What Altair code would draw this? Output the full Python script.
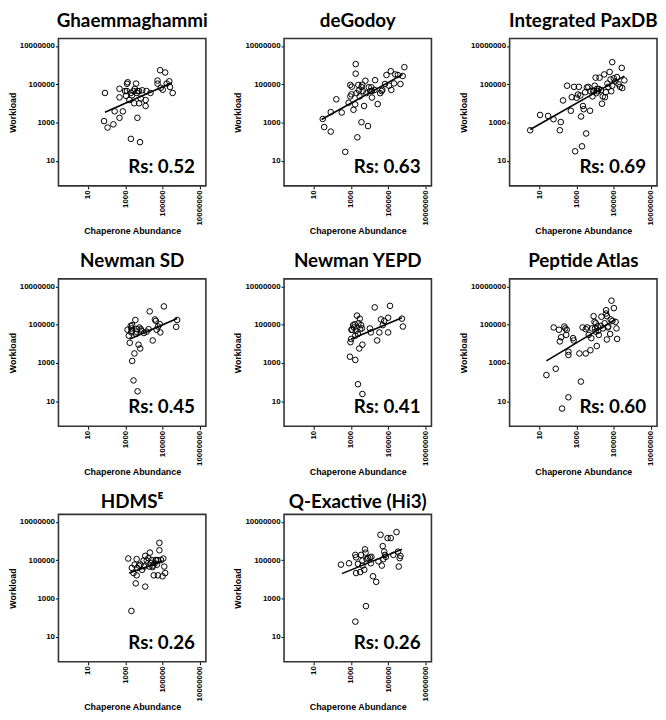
import altair as alt
import pandas as pd

W = 149
H = 149

titles = ["Ghaemmaghammi", "deGodoy", "Integrated PaxDB", "Newman SD", "Newman YEPD",
          "Peptide Atlas", "HDMS\u1d31", "Q-Exactive (Hi3)"]
rs_labels = ["Rs: 0.52", "Rs: 0.63", "Rs: 0.69", "Rs: 0.45", "Rs: 0.41", "Rs: 0.60", "Rs: 0.26", "Rs: 0.26"]

x_ticks = [10, 1000, 100000, 10000000]
y_ticks = [10, 1000, 100000, 10000000]

# values, as log10 of the plotted values
ghaem_log_abund = [1.91, 1.86, 2.05, 2.36, 2.43, 2.69, 2.69, 2.69, 2.87, 2.99, 3.09, 3.13, 3.09, 3.22, 3.30,
                   3.30, 3.36, 3.48, 3.51, 3.58, 3.62, 3.65, 3.65, 3.74, 3.74, 3.79, 3.83, 3.91, 4.09, 4.09,
                   4.14, 4.35, 4.73, 4.73, 4.87, 4.90, 5.01, 5.14, 5.22, 5.36, 5.40, 5.54, 3.44, 3.04]
ghaem_log_work = [4.54, 3.07, 2.73, 2.90, 3.58, 4.76, 4.31, 3.24, 3.58, 4.64, 5.02, 5.10, 4.64, 4.17, 4.54,
                  2.14, 4.42, 4.00, 4.76, 5.03, 4.54, 4.64, 3.24, 4.00, 4.64, 1.97, 4.25, 4.68, 3.86, 4.17,
                  4.64, 4.54, 5.19, 5.03, 5.73, 4.81, 4.71, 5.61, 5.03, 5.15, 4.85, 4.54, 4.64, 4.39]
ghaem_fit_abund = [1.91, 5.49]
ghaem_fit_work = [3.53, 5.07]

degodoy_log_abund = [1.49, 1.57, 1.92, 1.92, 2.22, 2.51, 2.70, 2.88, 2.97, 2.97, 3.03, 3.14, 3.23, 3.26, 3.26,
                     3.30, 3.35, 3.40, 3.43, 3.47, 3.57, 3.61, 3.64, 3.71, 3.78, 3.83, 3.92, 3.96, 4.04, 4.10,
                     4.13, 4.13, 4.27, 4.30, 4.44, 4.57, 4.65, 4.69, 4.83, 4.91, 5.05, 5.14, 5.17, 5.31, 5.38,
                     5.52, 5.66, 5.78, 5.87, 3.57, 3.05]
degodoy_log_work = [3.18, 2.76, 2.52, 3.54, 4.21, 3.52, 1.46, 4.03, 4.96, 4.36, 4.47, 3.66, 3.94, 6.05, 5.55,
                    4.53, 2.22, 4.96, 4.67, 4.36, 3.01, 4.97, 4.64, 3.86, 5.18, 4.53, 2.81, 4.84, 4.64, 4.84,
                    4.30, 4.64, 4.70, 5.21, 3.96, 4.53, 4.64, 4.70, 5.01, 5.48, 4.92, 5.68, 4.70, 5.04, 5.51,
                    5.48, 5.01, 5.43, 5.89, 4.85, 4.87]
degodoy_fit_abund = [1.43, 5.78]
degodoy_fit_work = [3.15, 5.51]

paxdb_log_abund = [0.52, 1.05, 1.48, 1.77, 2.11, 2.16, 2.28, 2.50, 2.70, 2.75, 2.87, 2.93, 3.01, 3.08, 3.13,
                   3.21, 3.25, 3.30, 3.35, 3.39, 3.47, 3.52, 3.56, 3.64, 3.73, 3.76, 3.86, 3.90, 3.93, 3.98,
                   4.03, 4.07, 4.10, 4.20, 4.24, 4.32, 4.37, 4.41, 4.49, 4.53, 4.58, 4.66, 4.71, 4.78, 4.83,
                   4.87, 4.92, 4.92, 5.00, 5.09, 5.17, 5.26, 5.34, 5.43, 5.46, 5.57, 4.15]
paxdb_log_work = [2.59, 3.39, 3.34, 3.17, 2.59, 3.02, 4.15, 4.92, 3.61, 4.32, 4.86, 1.49, 4.29, 4.46, 4.86,
                  4.41, 3.31, 1.75, 3.86, 3.69, 4.58, 2.42, 4.83, 4.86, 3.61, 4.63, 4.36, 4.63, 4.66, 4.92,
                  5.34, 4.53, 4.75, 4.75, 5.34, 4.69, 3.98, 4.36, 5.51, 4.32, 4.58, 5.03, 4.86, 5.64, 5.25,
                  4.63, 4.92, 6.15, 5.31, 5.14, 5.37, 5.00, 4.86, 5.85, 4.80, 5.20, 4.63]
paxdb_fit_abund = [0.52, 5.57]
paxdb_fit_work = [2.63, 5.42]

nsd_log_abund = [3.12, 3.19, 3.24, 3.29, 3.32, 3.36, 3.37, 3.37, 3.44, 3.49, 3.54, 3.58, 3.63, 3.66, 3.71,
                 3.75, 3.80, 3.83, 3.86, 4.00, 4.14, 4.25, 4.31, 4.47, 4.59, 4.64, 4.68, 4.76, 4.85, 4.88,
                 5.07, 5.78, 5.73, 3.32, 3.58]
nsd_log_work = [4.73, 4.42, 4.05, 4.93, 4.80, 4.68, 4.97, 3.10, 2.08, 3.49, 5.24, 4.63, 4.76, 1.51, 3.95,
                4.85, 3.75, 4.76, 4.68, 4.56, 4.63, 4.76, 5.69, 4.17, 5.27, 5.19, 4.73, 4.90, 5.02, 4.59,
                5.95, 5.24, 4.88, 4.59, 4.51]
nsd_fit_abund = [3.24, 5.78]
nsd_fit_work = [4.25, 5.32]

nyepd_log_abund = [2.95, 2.98, 3.02, 3.03, 3.07, 3.12, 3.16, 3.21, 3.24, 3.28, 3.33, 3.38, 3.45, 3.48, 3.50,
                   3.55, 3.59, 3.62, 3.38, 3.62, 4.02, 4.07, 4.28, 4.41, 4.53, 4.62, 4.71, 4.79, 5.00, 5.00,
                   5.10, 5.74, 5.79, 3.24, 3.41]
nyepd_log_work = [3.32, 4.08, 4.25, 4.73, 4.73, 4.97, 4.85, 5.02, 3.15, 4.68, 5.47, 4.51, 3.75, 5.31, 4.76,
                  4.97, 4.80, 3.95, 1.88, 1.37, 4.80, 4.59, 5.90, 4.17, 4.59, 5.27, 4.97, 5.19, 5.36, 4.59,
                  5.98, 5.31, 4.90, 4.42, 5.07]
nyepd_fit_abund = [3.02, 5.74]
nyepd_fit_work = [4.25, 5.36]

pa_log_abund = [1.39, 1.78, 1.89, 2.06, 2.11, 2.18, 2.23, 2.35, 2.40, 2.45, 2.48, 2.57, 2.57, 2.57, 2.82,
                2.85, 3.16, 3.24, 3.33, 3.50, 3.50, 3.58, 3.66, 3.75, 3.80, 3.83, 3.92, 3.97, 4.00, 4.04,
                4.09, 4.14, 4.17, 4.20, 4.31, 4.34, 4.42, 4.51, 4.59, 4.59, 4.63, 4.68, 4.71, 4.81, 4.84,
                4.88, 4.93, 5.01, 5.10, 5.15, 5.18, 4.64, 4.04]
pa_log_work = [2.36, 4.85, 2.69, 4.73, 4.12, 4.34, 0.61, 4.90, 4.80, 4.46, 4.73, 3.58, 3.41, 1.20, 4.29,
               4.17, 3.49, 2.02, 4.85, 3.49, 4.76, 4.85, 4.46, 3.66, 4.29, 4.80, 5.44, 5.14, 4.80, 5.07,
               3.88, 4.90, 4.68, 4.46, 4.93, 5.41, 4.80, 5.07, 5.75, 5.58, 4.22, 4.85, 4.90, 4.51, 5.27,
               6.25, 5.19, 5.86, 5.14, 4.80, 4.25, 5.44, 4.63]
pa_fit_abund = [1.39, 5.10]
pa_fit_work = [3.10, 5.27]

hdms_log_abund = [3.16, 3.33, 3.35, 3.44, 3.50, 3.56, 3.61, 3.64, 3.73, 3.81, 3.90, 3.98, 4.02, 4.07, 4.07,
                  4.15, 4.24, 4.29, 4.32, 4.36, 4.41, 4.46, 4.49, 4.53, 4.58, 4.63, 4.66, 4.70, 4.75, 4.83,
                  4.83, 4.92, 5.00, 5.04, 5.09, 5.14, 4.75, 3.61]
hdms_log_work = [5.08, 2.34, 4.59, 4.32, 4.76, 3.78, 5.05, 4.59, 4.71, 4.76, 4.49, 4.97, 4.66, 3.61, 5.22,
                 4.97, 5.10, 4.66, 5.39, 4.83, 5.00, 4.63, 4.71, 4.20, 4.83, 5.00, 5.00, 4.76, 5.00, 5.51,
                 5.90, 5.00, 4.15, 5.08, 4.66, 4.32, 4.20, 4.20]
hdms_fit_abund = [3.21, 4.97]
hdms_fit_work = [4.32, 4.93]

qe_log_abund = [2.47, 2.90, 3.24, 3.28, 3.28, 3.38, 3.50, 3.55, 3.62, 3.72, 3.76, 3.81, 3.79, 3.84, 3.93,
                4.02, 4.07, 4.10, 4.19, 4.36, 4.48, 4.59, 4.66, 4.71, 4.74, 4.79, 4.83, 4.88, 4.97, 5.14,
                5.28, 5.45, 5.53, 5.57, 5.62, 5.66, 3.24, 3.62]
qe_log_work = [4.76, 4.83, 5.27, 4.32, 5.14, 4.80, 4.37, 5.27, 4.71, 4.49, 5.56, 2.59, 5.39, 5.05, 5.10,
               5.14, 4.83, 5.17, 4.15, 3.86, 4.93, 6.32, 4.71, 5.73, 5.05, 5.44, 5.27, 5.17, 6.15, 6.15,
               5.27, 6.46, 5.44, 4.66, 5.10, 5.22, 1.78, 4.97]
qe_fit_abund = [2.52, 5.74]
qe_fit_work = [4.29, 5.56]

panels = [
    (ghaem_log_abund, ghaem_log_work, ghaem_fit_abund, ghaem_fit_work),
    (degodoy_log_abund, degodoy_log_work, degodoy_fit_abund, degodoy_fit_work),
    (paxdb_log_abund, paxdb_log_work, paxdb_fit_abund, paxdb_fit_work),
    (nsd_log_abund, nsd_log_work, nsd_fit_abund, nsd_fit_work),
    (nyepd_log_abund, nyepd_log_work, nyepd_fit_abund, nyepd_fit_work),
    (pa_log_abund, pa_log_work, pa_fit_abund, pa_fit_work),
    (hdms_log_abund, hdms_log_work, hdms_fit_abund, hdms_fit_work),
    (qe_log_abund, qe_log_work, qe_fit_abund, qe_fit_work),
]


def make_panel(i, title_offset):
    xa, ya, fx, fy = panels[i]
    pts = pd.DataFrame({"abundance": [10 ** v for v in xa], "workload": [10 ** v for v in ya]})
    fit = pd.DataFrame({"abundance": [10 ** v for v in fx], "workload": [10 ** v for v in fy]})
    lab = pd.DataFrame({"label": [rs_labels[i]]})
    xenc = alt.X("abundance:Q", title="Chaperone Abundance",
                 scale=alt.Scale(type="log", domain=[0.26, 2.1e7], nice=False),
                 axis=alt.Axis(values=x_ticks, format="d", labelAngle=270, labelFlush=False))
    yenc = alt.Y("workload:Q", title="Workload",
                 scale=alt.Scale(type="log", domain=[0.48, 2.45e7], nice=False),
                 axis=alt.Axis(values=y_ticks, format="d", labelFlush=False))
    frame = alt.Chart(lab).mark_rect(fill="white", fillOpacity=0, stroke="#333333", strokeWidth=1.6).encode(
        x=alt.value(0), x2=alt.value(W), y=alt.value(0), y2=alt.value(H))
    points = alt.Chart(pts).mark_point(shape="circle", filled=False, color="black", size=32,
                                       strokeWidth=1, opacity=1).encode(x=xenc, y=yenc)
    line = alt.Chart(fit).mark_line(color="black", strokeWidth=1.6).encode(
        x="abundance:Q", y="workload:Q")
    text = alt.Chart(lab).mark_text(align="right", baseline="alphabetic", font="Lato", fontSize=19,
                                    fontWeight="bold", color="black").encode(
        x=alt.value(W - 11), y=alt.value(H - 13), text="label:N")
    return alt.layer(points, line, text, frame).properties(
        width=W, height=H,
        title=alt.TitleParams(text=titles[i], font="Lato", fontSize=19, fontWeight="bold",
                              anchor="middle", frame="group", offset=title_offset, color="black"))


row1 = alt.hconcat(make_panel(0, 7), make_panel(1, 7), make_panel(2, 7), spacing=79, bounds="flush")
row2 = alt.hconcat(make_panel(3, 7), make_panel(4, 7), make_panel(5, 7), spacing=79, bounds="flush")
row3 = alt.hconcat(make_panel(6, 2), make_panel(7, 2), spacing=79, bounds="flush")

chart = alt.vconcat(row1, row2, row3, spacing=16).properties(padding=0).configure_view(
    stroke=None
).configure_axis(
    grid=False, domain=False, tickColor="black", tickSize=3, tickWidth=1,
    labelFont="Liberation Sans", labelFontWeight="bold", labelFontSize=8, labelColor="black",
    labelPadding=1, titleFont="Liberation Sans", titleFontWeight="bold", titleFontSize=9,
    titleColor="black", titlePadding=2
)

chart.save("out.html", embed_options={"renderer": "svg", "actions": False})
